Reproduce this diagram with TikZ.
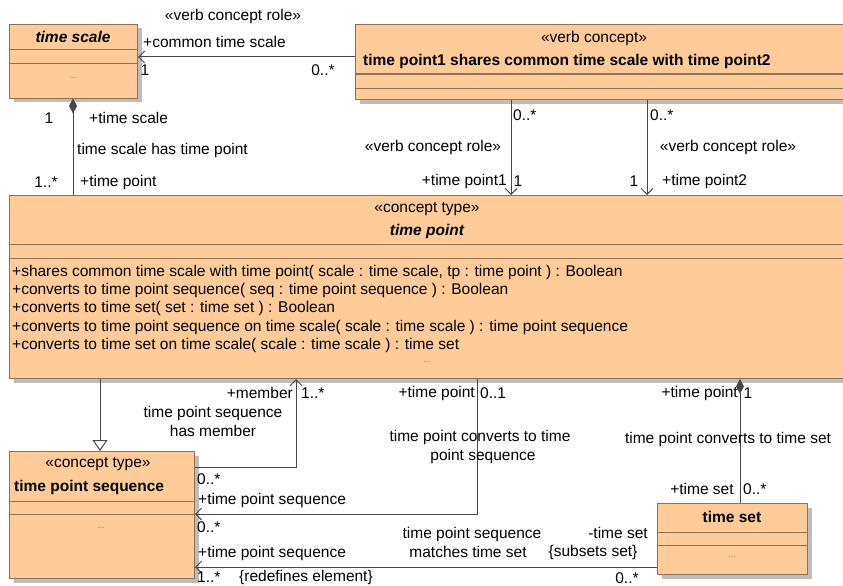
\documentclass[tikz,border=0pt]{standalone}
\usepackage{fontspec}
\setmainfont{Liberation Sans}
\usetikzlibrary{arrows.meta,shadows,calc}
\definecolor{boxfill}{HTML}{FFCC99}
\definecolor{boxline}{HTML}{8E7257}
\definecolor{lnc}{HTML}{474747}
\definecolor{shadowc}{HTML}{BDBDBD}
\begin{document}
\begin{tikzpicture}[x=1pt,y=-1pt,
  font=\fontsize{15.5}{18}\selectfont,
  umlbox/.style={draw=boxline, fill=boxfill, line width=1pt, inner sep=0pt, anchor=north west,
    drop shadow={shadow xshift=4pt, shadow yshift=-4pt, fill=shadowc, opacity=1}},
  sep/.style={draw=boxline, line width=1pt},
  conn/.style={draw=lnc, line width=1pt},
  openarr/.style={-{Straight Barb[length=6pt,width=12pt,line width=1pt]}},
  gen/.style={-{Triangle[open,length=11pt,width=15pt,line width=1pt]}},
  diam/.style={-{Diamond[length=15pt,width=8pt]}},
  lbl/.style={inner sep=0pt, anchor=center},
  lw/.style={inner sep=0pt, anchor=west},
  le/.style={inner sep=0pt, anchor=east},
  dots/.style={inner sep=0pt, font=\fontsize{8}{9}\selectfont, text=black!55}
]
\useasboundingbox (0,0) rectangle (843,586);
\clip (0,0) rectangle (843,586);

% ---------- boxes ----------
\node[umlbox, minimum width=128pt, minimum height=73.5pt] (ts) at (9,24) {};
\draw[sep] (ts.west |- 0,50) -- (ts.east |- 0,50);
\draw[sep] (ts.west |- 0,64) -- (ts.east |- 0,64);
\node[lbl, font=\fontsize{15.5}{18}\selectfont\bfseries\itshape] (tst) at (73,37) {time scale};
\node[dots] (tsd) at (73,78) {...};

\node[umlbox, minimum width=520pt, minimum height=75pt] (vc) at (355,24) {};
\draw[sep] (vc.west |- 0,74) -- (vc.east |- 0,74);
\draw[sep] (vc.west |- 0,88) -- (vc.east |- 0,88);
\node[lbl] (vcs) at (594,38) {«verb concept»};
\node[lw, font=\fontsize{15.5}{18}\selectfont\bfseries] (vct) at (363,61) {time point1 shares common time scale with time point2};

\node[umlbox, minimum width=870pt, minimum height=183pt] (tp) at (9,195) {};
\draw[sep] (tp.west |- 0,244) -- (tp.east |- 0,244);
\draw[sep] (tp.west |- 0,258) -- (tp.east |- 0,258);
\node[lbl] (tps1) at (427,209) {«concept type»};
\node[lbl, font=\fontsize{15.5}{18}\selectfont\bfseries\itshape] (tpt) at (427,231) {time point};
\node[lw] (op1) at (12,272) {+shares common time scale with time point( scale : time scale, tp : time point ) : Boolean};
\node[lw] (op2) at (12,290) {+converts to time point sequence( seq : time point sequence ) : Boolean};
\node[lw] (op3) at (12,308) {+converts to time set( set : time set ) : Boolean};
\node[lw] (op4) at (12,327) {+converts to time point sequence on time scale( scale : time scale ) : time point sequence};
\node[lw] (op5) at (12,345) {+converts to time set on time scale( scale : time scale ) : time set};
\node[dots] (tpd) at (427,362) {...};

\node[umlbox, minimum width=185pt, minimum height=127pt] (tps) at (9,451) {};
\draw[sep] (tps.west |- 0,501) -- (tps.east |- 0,501);
\draw[sep] (tps.west |- 0,514) -- (tps.east |- 0,514);
\node[lbl] (tpss) at (98,464) {«concept type»};
\node[lw, font=\fontsize{15.5}{18}\selectfont\bfseries] (tpst) at (14,487) {time point sequence};
\node[dots] (tpsd) at (101,528) {...};

\node[umlbox, minimum width=150pt, minimum height=71pt] (tset) at (657,503) {};
\draw[sep] (tset.west |- 0,532) -- (tset.east |- 0,532);
\draw[sep] (tset.west |- 0,545) -- (tset.east |- 0,545);
\node[lbl, font=\fontsize{15.5}{18}\selectfont\bfseries] (tsett) at (732,517) {time set};
\node[dots] (tsetd) at (732,557) {...};

% ---------- connectors ----------
\draw[conn, openarr] (vc.west |- 0,57) -- (ts.east |- 0,57);
\draw[conn, diam] (tp.north -| 73,0) -- (ts.south -| 73,0);
\draw[conn, openarr] (vc.south -| 511,0) -- (tp.north -| 511,0);
\draw[conn, openarr] (vc.south -| 647,0) -- (tp.north -| 647,0);
\draw[conn, gen] (tp.south -| 100,0) -- (tps.north -| 100,0);
\draw[conn, openarr] (tps.east |- 0,467) -| (tp.south -| 296,0);
\draw[conn, openarr] (tp.south -| 477,0) |- (tps.east |- 0,514);
\draw[conn, openarr] (tset.west |- 0,567) -- (tps.east |- 0,567);
\draw[conn, diam] (tset.north -| 740,0) -- (tp.south -| 740,0);

% ---------- labels ----------
\node[lbl] (l1) at (233,16) {«verb concept role»};
\node[lw] (l2) at (143,42) {+common time scale};
\node[lbl] (l3) at (145,70) {1};
\node[lbl] (l4) at (323,70) {0..*};
\node[lbl] (l5) at (49,118) {1};
\node[lw] (l6) at (89,118) {+time scale};
\node[lw] (l7) at (77,150) {time scale has time point};
\node[lbl] (l8) at (46,182) {1..*};
\node[lw] (l9) at (80,182) {+time point};

\node[lw] (l10) at (513,115) {0..*};
\node[lbl] (l11) at (433,147) {«verb concept role»};
\node[le] (l12) at (507,181) {+time point1};
\node[lbl] (l13) at (518,181) {1};
\node[lw] (l14) at (650,115) {0..*};
\node[lbl] (l15) at (728,147) {«verb concept role»};
\node[lbl] (l16) at (634,181) {1};
\node[lw] (l17) at (662,181) {+time point2};

\node[le] (l18) at (293,393) {+member};
\node[lw] (l19) at (301,393) {1..*};
\node[lbl] (l20) at (213,413) {time point sequence};
\node[lbl] (l21) at (213,431) {has member};
\node[lw] (l22) at (197,479) {0..*};
\node[lw] (l23) at (198,500) {+time point sequence};
\node[lw] (l24) at (197,527) {0..*};
\node[lw] (l25) at (198,553) {+time point sequence};
\node[lw] (l26) at (197,577) {1..*};
\node[lw] (l27) at (239,577) {\{redefines element\}};

\node[le] (l28) at (475,393) {+time point};
\node[lw] (l29) at (480,393) {0..1};
\node[lbl] (l30) at (480,437) {time point converts to time};
\node[lbl] (l31) at (483,456) {point sequence};
\node[lbl] (l32) at (472,534) {time point sequence};
\node[lbl] (l33) at (468,552) {matches time set};
\node[lbl] (l34) at (618,533) {-time set};
\node[lbl] (l35) at (593,552) {\{subsets set\}};
\node[lbl] (l36) at (627,578) {0..*};

\node[le] (l37) at (738,393) {+time point};
\node[lbl] (l38) at (748,393) {1};
\node[lbl] (l39) at (728,439) {time point converts to time set};
\node[lbl] (l40) at (702,489) {+time set};
\node[lw] (l41) at (743,489) {0..*};
\end{tikzpicture}
\end{document}
